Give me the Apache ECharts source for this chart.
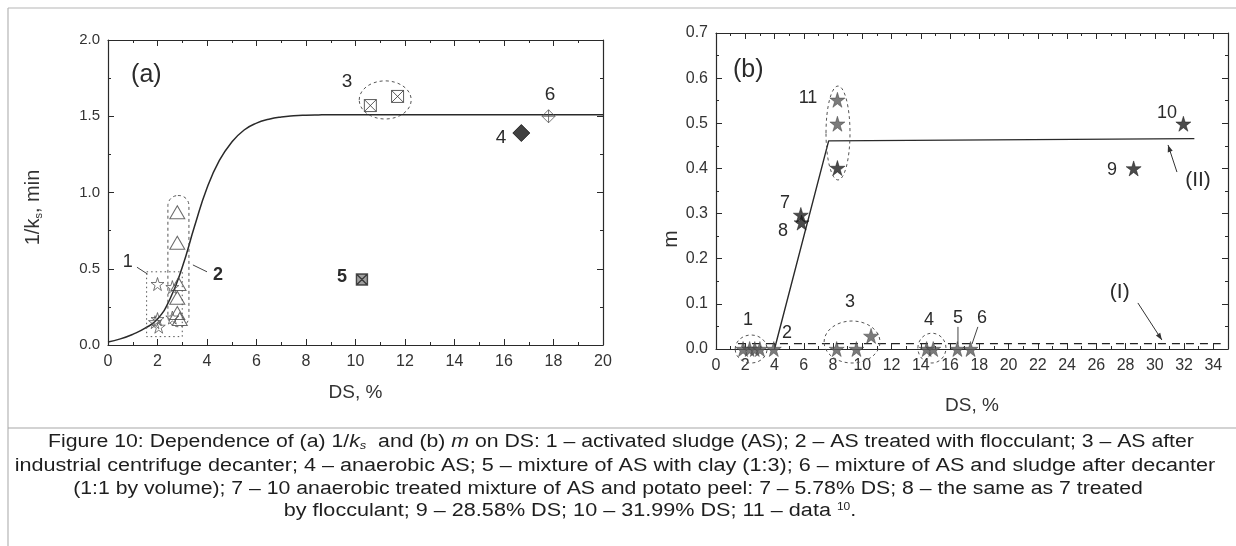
<!DOCTYPE html>
<html><head><meta charset="utf-8">
<script src="https://cdn.jsdelivr.net/npm/echarts@6/dist/echarts.min.js"></script>
<style>html,body{margin:0;padding:0;background:#fff}#c{width:1236px;height:546px}</style>
</head><body><div id="c"></div>
<script>
// ================= DATA =================
// (a) 1/ks vs DS
const aCurveX = [0,0.5,1,1.5,2,2.5,3,3.5,4,4.5,5,5.5,6,6.5,7,7.5,8,8.5,9,10,12,14,16,18,20];
const aCurveY = [0.02,0.04,0.07,0.11,0.17,0.30,0.51,0.78,1.03,1.21,1.33,1.41,1.455,1.48,1.495,1.503,1.507,1.509,1.51,1.51,1.51,1.51,1.51,1.51,1.51];
const aActivated = [[2.0,0.40],[2.6,0.38],[1.9,0.15],[2.05,0.12],[2.0,0.17],[2.6,0.18]];      // 1
const aFlocculant = [[2.8,0.87],[2.8,0.67],[2.85,0.40],[2.8,0.31],[2.8,0.21],[2.9,0.17]];    // 2
const aDecanter = [[10.6,1.57],[11.7,1.63]];   // 3
const aAnaerobic = [[16.7,1.39]];              // 4
const aClay = [[10.26,0.43]];                  // 5
const aMixture = [[17.8,1.50]];                // 6
// (b) m vs DS
const bLineIIX = [4, 7.7, 32.7];
const bLineIIY = [0, 0.461, 0.466];
const bLineIX = [1.5, 34.5];
const bLineIY = [0.012, 0.012];
const bActivated = [[1.85,0],[2.3,0],[2.65,0],[3.0,0]];   // 1
const bFlocculant = [[3.95,0]];                          // 2
const bDecanter = [[8.25,0],[9.6,0],[10.6,0.029]];       // 3
const bAnaerobic = [[14.4,0],[14.85,0]];                 // 4
const bClay = [[16.5,0]];                                // 5
const bMixture = [[17.4,0]];                             // 6
const bPeel = [[5.8,0.297]];                             // 7
const bPeelFloc = [[5.85,0.28]];                         // 8
const bPeel2858 = [[28.55,0.40]];                        // 9
const bPeel3199 = [[31.95,0.499]];                       // 10
const bData11Grey = [[8.3,0.552],[8.3,0.499]];           // 11
const bData11Dark = [[8.3,0.401]];                       // 11
// tick settings
const aXTicks = {min:0, max:20, interval:2};
const aYTicks = {min:0, max:2, interval:0.5};
const bXTicks = {min:0, max:35, interval:2};
const bYTicks = {min:0, max:0.7, interval:0.1};

// ================= STYLE / LAYOUT =================
const FONT = "'Liberation Sans', Arial, sans-serif";
const INK = '#2a2a2a';
const STAR = 'path://M50,0 L61,35 L98,35 L68,57 L79,91 L50,70 L21,91 L32,57 L2,35 L39,35 Z';
const XSQUARE = 'path://M0,0H10V10H0Z M0,0L10,10 M10,0L0,10';
const XDIAMOND = 'path://M5,0L10,5L5,10L0,5Z M5,0V10 M0,5H10';

function zip(xs, ys){ return xs.map((x,i)=>[x, ys[i]]); }

function axisBase(t, extra){
  return Object.assign({
    type:'value', min:t.min, max:t.max, interval:t.interval,
    axisLine:{show:true, onZero:false, lineStyle:{color:INK, width:1.2}},
    axisTick:{show:true, inside:true, length:6, lineStyle:{color:INK, width:1}},
    minorTick:{show:true, splitNumber:2, length:3, lineStyle:{color:INK, width:1}},
    splitLine:{show:false},
    axisLabel:{color:'#333', fontSize:16, fontFamily:FONT, margin:9}
  }, extra);
}
function mirror(t, extra){
  return axisBase(t, Object.assign({axisLabel:{show:false}}, extra));
}

const chart = echarts.init(document.getElementById('c'), null, {renderer:'canvas'});

const option = {
  animation:false,
  backgroundColor:'#fff',
  grid:[
    {left:108, top:40, width:495, height:305},
    {left:716, top:33, width:512, height:316}
  ],
  xAxis:[
    axisBase(aXTicks, {gridIndex:0, position:'bottom', name:'DS, %', nameLocation:'middle', nameGap:38,
      nameTextStyle:{fontSize:19, color:'#333', fontFamily:FONT}}),
    mirror(aXTicks, {gridIndex:0, position:'top'}),
    axisBase(bXTicks, {gridIndex:1, position:'bottom', name:'DS, %', nameLocation:'middle', nameGap:47,
      nameTextStyle:{fontSize:19, color:'#333', fontFamily:FONT},
      axisLabel:{color:'#333', fontSize:16, fontFamily:FONT, margin:9, showMaxLabel:false}}),
    mirror(bXTicks, {gridIndex:1, position:'top'})
  ],
  yAxis:[
    axisBase(aYTicks, {gridIndex:0, position:'left', name:'1/k{sub|s}, min', nameLocation:'middle', nameGap:64, nameRotate:90,
      axisLabel:{color:'#333', fontSize:15, fontFamily:FONT, margin:8, formatter:v=>v.toFixed(1)},
      nameTextStyle:{fontSize:20, color:'#333', fontFamily:FONT, padding:[0,30,0,0],
        rich:{sub:{fontSize:11, color:'#333', fontFamily:FONT, padding:[10,0,0,0]}}}}),
    mirror(aYTicks, {gridIndex:0, position:'right'}),
    axisBase(bYTicks, {gridIndex:1, position:'left', name:'m', nameLocation:'middle', nameGap:33, nameRotate:90,
      axisLabel:{color:'#333', fontSize:16, fontFamily:FONT, margin:8, formatter:v=>v.toFixed(1)},
      nameTextStyle:{fontSize:21, color:'#333', fontFamily:FONT, padding:[0,96,0,0]}}),
    mirror(bYTicks, {gridIndex:1, position:'right'})
  ],
  series:[
    {type:'line', xAxisIndex:0, yAxisIndex:0, data:zip(aCurveX,aCurveY), smooth:0.5,
      showSymbol:false, symbol:'none', lineStyle:{color:INK, width:1.5}, silent:true, z:2},
    {type:'scatter', xAxisIndex:0, yAxisIndex:0, data:aActivated, symbol:STAR, symbolSize:13,
      itemStyle:{color:'rgba(255,255,255,0)', borderColor:'#555', borderWidth:1}, z:3},
    {type:'scatter', xAxisIndex:0, yAxisIndex:0, data:aFlocculant, symbol:'triangle', symbolSize:[15,13],
      itemStyle:{color:'rgba(255,255,255,0)', borderColor:'#444', borderWidth:1}, z:3},
    {type:'scatter', xAxisIndex:0, yAxisIndex:0, data:aDecanter, symbol:XSQUARE, symbolSize:12,
      itemStyle:{color:'rgba(255,255,255,0)', borderColor:'#333', borderWidth:1}, z:3},
    {type:'scatter', xAxisIndex:0, yAxisIndex:0, data:aAnaerobic, symbol:'diamond', symbolSize:[17,17],
      itemStyle:{color:'#111', borderColor:'#111', borderWidth:1}, z:3},
    {type:'scatter', xAxisIndex:0, yAxisIndex:0, data:aClay, symbol:XSQUARE, symbolSize:11,
      itemStyle:{color:'#888', borderColor:'#222', borderWidth:1.4}, z:3},
    {type:'scatter', xAxisIndex:0, yAxisIndex:0, data:aMixture, symbol:XDIAMOND, symbolSize:13,
      itemStyle:{color:'rgba(255,255,255,0)', borderColor:'#555', borderWidth:1}, z:3},

    {type:'line', xAxisIndex:2, yAxisIndex:2, data:zip(bLineIIX,bLineIIY), showSymbol:false, symbol:'none',
      lineStyle:{color:INK, width:1.4}, silent:true, z:2},
    {type:'line', xAxisIndex:2, yAxisIndex:2, data:zip(bLineIX,bLineIY), showSymbol:false, symbol:'none',
      lineStyle:{color:'#222', width:1.4, type:[8,6]}, silent:true, z:2},
    {type:'scatter', xAxisIndex:2, yAxisIndex:2, data:[].concat(bActivated,bFlocculant,bDecanter,bAnaerobic,bClay,bMixture,bData11Grey),
      symbol:STAR, symbolSize:15, itemStyle:{color:'#5a5a5a', borderColor:'#3a3a3a', borderWidth:0.6}, z:3},
    {type:'scatter', xAxisIndex:2, yAxisIndex:2, data:[].concat(bPeel,bPeelFloc,bPeel2858,bPeel3199,bData11Dark),
      symbol:STAR, symbolSize:15, itemStyle:{color:'#1e1e1e', borderColor:'#111', borderWidth:0.6}, z:3}
  ]
};
chart.setOption(option);

// ================= ANNOTATIONS (placed in data coordinates) =================
const annA = {
  labels:[
    {t:'(a)', x:1.55, y:1.77, size:25},
    {t:'1', x:0.8, y:0.545, size:18},
    {t:'2', x:4.44, y:0.46, size:18, bold:true},
    {t:'3', x:9.66, y:1.725, size:19},
    {t:'4', x:15.88, y:1.357, size:19},
    {t:'5', x:9.45, y:0.446, size:18, bold:true},
    {t:'6', x:17.86, y:1.64, size:19}
  ],
  rects:[{x1:1.56, x2:3.0, y1:0.055, y2:0.48, r:0, dash:[1.5,3]},
         {x1:2.42, x2:3.27, y1:0.12, y2:0.98, r:10, dash:[3,3]}],
  ellipses:[{cx:11.2, cy:1.607, rx:1.05, ry:0.125}],
  leaders:[[1.17,0.51,1.6,0.465],[3.43,0.525,4.0,0.48]],
  arrows:[]
};
const annB = {
  labels:[
    {t:'(b)', x:2.2, y:0.618, size:25},
    {t:'1', x:2.19, y:0.064, size:18},
    {t:'2', x:4.85, y:0.035, size:18},
    {t:'3', x:9.16, y:0.104, size:18},
    {t:'4', x:14.56, y:0.064, size:18},
    {t:'5', x:16.54, y:0.069, size:18},
    {t:'6', x:18.18, y:0.069, size:18},
    {t:'7', x:4.72, y:0.323, size:18},
    {t:'8', x:4.58, y:0.262, size:18},
    {t:'9', x:27.07, y:0.397, size:18},
    {t:'10', x:30.83, y:0.523, size:18},
    {t:'11', x:6.29, y:0.556, size:18},
    {t:'(II)', x:32.95, y:0.374, size:21},
    {t:'(I)', x:27.6, y:0.126, size:21}
  ],
  rects:[],
  ellipses:[{cx:2.4, cy:0.0, rx:1.09, ry:0.031},
            {cx:9.3, cy:0.0155, rx:1.91, ry:0.0465},
            {cx:14.76, cy:0.002, rx:0.96, ry:0.033},
            {cx:8.34, cy:0.4785, rx:0.82, ry:0.104}],
  leaders:[[16.54,0.049,16.54,0.011],[17.9,0.049,17.5,0.011]],
  arrows:[[31.51,0.392,30.9,0.452],[28.84,0.102,30.48,0.02]]
};

function px(g, x, y){
  return chart.convertToPixel(g===0 ? {xAxisIndex:0, yAxisIndex:0} : {xAxisIndex:2, yAxisIndex:2}, [x, y]);
}
const gfx = [];
function addAnn(g, a){
  a.labels.forEach(l=>{
    const p = px(g, l.x, l.y);
    gfx.push({type:'text', silent:true, z:10, style:{text:l.t, x:p[0], y:p[1], fill:'#2b2b2b',
      font:(l.bold?'bold ':'')+l.size+'px '+FONT, textAlign:'center', textVerticalAlign:'middle', align:'center', verticalAlign:'middle'}});
  });
  a.rects.forEach(r=>{
    const p1 = px(g, r.x1, r.y2), p2 = px(g, r.x2, r.y1);
    gfx.push({type:'rect', silent:true, z:10, shape:{x:p1[0], y:p1[1], width:p2[0]-p1[0], height:p2[1]-p1[1], r:r.r},
      style:{fill:'none', stroke:'#555', lineWidth:1, lineDash:r.dash}});
  });
  a.ellipses.forEach(e=>{
    const c = px(g, e.cx, e.cy), ex = px(g, e.cx+e.rx, e.cy), ey = px(g, e.cx, e.cy+e.ry);
    gfx.push({type:'ellipse', silent:true, z:10, shape:{cx:c[0], cy:c[1], rx:Math.abs(ex[0]-c[0]), ry:Math.abs(c[1]-ey[1])},
      style:{fill:'none', stroke:'#555', lineWidth:1, lineDash:[3,3]}});
  });
  a.leaders.forEach(l=>{
    const p1 = px(g, l[0], l[1]), p2 = px(g, l[2], l[3]);
    gfx.push({type:'line', silent:true, z:10, shape:{x1:p1[0], y1:p1[1], x2:p2[0], y2:p2[1]}, style:{stroke:'#444', lineWidth:1}});
  });
  a.arrows.forEach(l=>{
    const p1 = px(g, l[0], l[1]), p2 = px(g, l[2], l[3]);
    gfx.push({type:'line', silent:true, z:10, shape:{x1:p1[0], y1:p1[1], x2:p2[0], y2:p2[1]}, style:{stroke:'#333', lineWidth:1}});
    const ang = Math.atan2(p2[1]-p1[1], p2[0]-p1[0]), L = 7, W = 2.6;
    const bx = p2[0]-L*Math.cos(ang), by = p2[1]-L*Math.sin(ang);
    gfx.push({type:'polygon', silent:true, z:10, shape:{points:[[p2[0],p2[1]],
      [bx+W*Math.sin(ang), by-W*Math.cos(ang)], [bx-W*Math.sin(ang), by+W*Math.cos(ang)]]}, style:{fill:'#333'}});
  });
}
addAnn(0, annA);
addAnn(1, annB);

// frame
gfx.push({type:'line', silent:true, shape:{x1:8, y1:8, x2:1236, y2:8}, style:{stroke:'#b5b5b5', lineWidth:1.2}});
gfx.push({type:'line', silent:true, shape:{x1:8, y1:8, x2:8, y2:546}, style:{stroke:'#b5b5b5', lineWidth:1.2}});
gfx.push({type:'line', silent:true, shape:{x1:8, y1:428, x2:1236, y2:428}, style:{stroke:'#a8a8a8', lineWidth:1.2}});

// caption
const CAP = 18;
const capRich = {
  i:{fontStyle:'italic', fontSize:CAP, fontFamily:FONT, fill:'#222'},
  sub:{fontStyle:'italic', fontSize:11, fontFamily:FONT, fill:'#222', padding:[8,0,0,0]},
  sup:{fontSize:10, fontFamily:FONT, fill:'#222', padding:[0,0,8,0]}
};
const capLines = [
  {t:'Figure 10: Dependence of (a) 1/{i|k}{sub|s}  and (b) {i|m} on DS: 1 – activated sludge (AS); 2 – AS treated with flocculant; 3 – AS after', x:621, y:442, s:1.18},
  {t:'industrial centrifuge decanter; 4 – anaerobic AS; 5 – mixture of AS with clay (1:3); 6 – mixture of AS and sludge after decanter', x:615, y:466, s:1.2},
  {t:'(1:1 by volume); 7 – 10 anaerobic treated mixture of AS and potato peel: 7 – 5.78% DS; 8 – the same as 7 treated', x:608, y:489, s:1.18},
  {t:'by flocculant; 9 – 28.58% DS; 10 – 31.99% DS; 11 – data {sup|10}.', x:570, y:511, s:1.2}
];
capLines.forEach(c=>{
  gfx.push({type:'text', silent:true, x:c.x, y:c.y, scaleX:c.s, style:{text:c.t, x:0, y:0, fill:'#1e1e1e', font:CAP+'px '+FONT, rich:capRich,
    textAlign:'center', textVerticalAlign:'middle', align:'center', verticalAlign:'middle'}});
});

chart.setOption({graphic:{elements:gfx}});
</script>
</body></html>
